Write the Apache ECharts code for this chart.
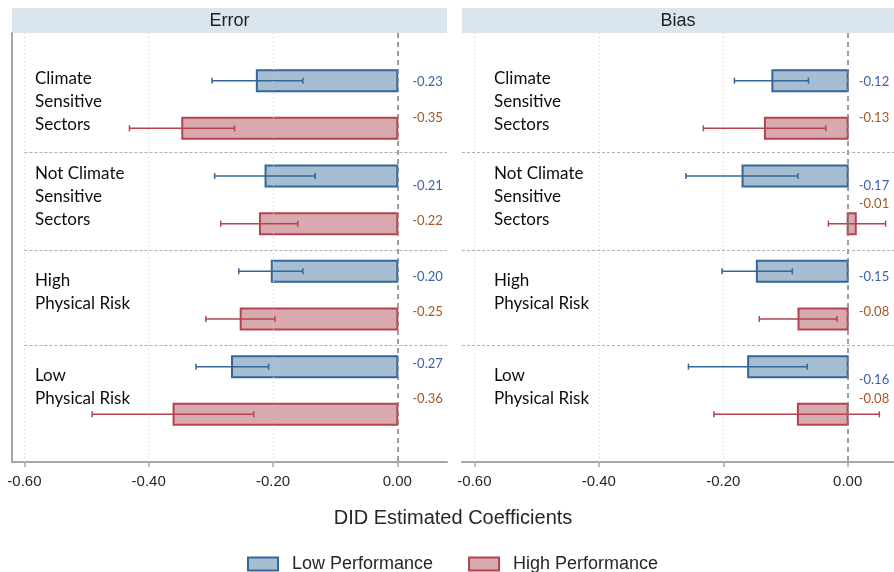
<!DOCTYPE html>
<html>
<head>
<meta charset="utf-8">
<script src="https://cdn.jsdelivr.net/npm/echarts@6/dist/echarts.min.js"></script>
<style>
html, body { margin: 0; padding: 0; background: #fff; }
#chart { width: 894px; height: 572px; }
</style>
</head>
<body>
<div id="chart"></div>
<script>
// subgroups, top to bottom
const groups = [
    ['Climate', 'Sensitive', 'Sectors'],
    ['Not Climate', 'Sensitive', 'Sectors'],
    ['High', 'Physical Risk'],
    ['Low', 'Physical Risk']
]
const panels = ['Error', 'Bias']
const xTicks = [-0.6, -0.4, -0.2, 0]

// DID coefficients and CI ends
const errLow = [-0.226, -0.212, -0.202, -0.266]
const errLowCI = [[-0.298, -0.152], [-0.294, -0.132], [-0.255, -0.152], [-0.324, -0.207]]
const errHigh = [-0.346, -0.221, -0.252, -0.360]
const errHighCI = [[-0.431, -0.262], [-0.284, -0.160], [-0.308, -0.197], [-0.491, -0.231]]
const biasLow = [-0.121, -0.169, -0.146, -0.160]
const biasLowCI = [[-0.182, -0.063], [-0.260, -0.080], [-0.202, -0.089], [-0.256, -0.065]]
const biasHigh = [-0.133, 0.013, -0.079, -0.080]
const biasHighCI = [[-0.232, -0.035], [-0.031, 0.061], [-0.142, -0.017], [-0.215, 0.051]]
// printed as in the source figure (the -0.01 sits next to a small positive bar)
const biasHighText = ['-0.13', '-0.01', '-0.08', '-0.08']

const LOW = { name: 'Low Performance', fill: '#a7bdd2', stroke: '#33669a', text: '#3d60aa' }
const HIGH = { name: 'High Performance', fill: '#d8aab0', stroke: '#b5434f', text: '#a1572a' }

// vertical nudges (px) of the value labels, per panel: [low, high] per group
const labelNudge = [
    [[1, -11], [10, -3], [5, -7], [-3, -16]],
    [[1, -11], [10, -20], [5, -7], [13, -16]]
]
const labelDx = [15, 11]
const groupDx = [23, 32]
const separators = [2.5, 4.55, 6.55]
const XMIN = -0.62
const XMAX = [0.08, 0.0745]   // right panel is cut by the image edge

function rows(vals, ci, kind) {
    return vals.map((v, i) => [2 * i + 1 + kind, v, ci[i][0], ci[i][1]])
}

const panelData = [
    { low: rows(errLow, errLowCI, 0), high: rows(errHigh, errHighCI, 1),
      lowText: errLow.map(v => v.toFixed(2)), highText: errHigh.map(v => v.toFixed(2)) },
    { low: rows(biasLow, biasLowCI, 0), high: rows(biasHigh, biasHighCI, 1),
      lowText: biasLow.map(v => v.toFixed(2)), highText: biasHighText }
]

function barRender(p, kind, look, texts) {
    return function (params, api) {
        let i = params.dataIndex
        let pos = api.value(0)
        let a = api.coord([0, pos])
        let b = api.coord([api.value(1), pos])
        let lo = api.coord([api.value(2), pos])
        let hi = api.coord([api.value(3), pos])
        let h = api.size([0, 0.44])[1]
        let y = a[1]
        let x0 = Math.min(a[0], b[0]), w = Math.abs(a[0] - b[0])
        let cap = 3
        return {
            type: 'group',
            children: [
                { type: 'rect', shape: { x: x0, y: y - h / 2, width: w, height: h },
                  style: { fill: look.fill, stroke: look.stroke, lineWidth: 2 } },
                { type: 'line', shape: { x1: lo[0], y1: y, x2: hi[0], y2: y },
                  style: { stroke: look.stroke, lineWidth: 1.5 } },
                { type: 'line', shape: { x1: lo[0], y1: y - cap, x2: lo[0], y2: y + cap },
                  style: { stroke: look.stroke, lineWidth: 1.5 } },
                { type: 'line', shape: { x1: hi[0], y1: y - cap, x2: hi[0], y2: y + cap },
                  style: { stroke: look.stroke, lineWidth: 1.5 } },
                { type: 'text', x: a[0] + labelDx[p], y: y + labelNudge[p][i][kind],
                  style: { text: texts[i], fill: look.text, font: '13px Lato',
                           align: 'left', verticalAlign: 'middle' } }
            ]
        }
    }
}

function groupRender(p) {
    return function (params, api) {
        let c = api.coord([api.value(0), api.value(1)])
        return {
            type: 'text', x: c[0] + groupDx[p], y: c[1] - 3,
            style: { text: groups[params.dataIndex].join('\n'), fill: '#0d0d0d',
                     font: '17px Lato', lineHeight: 23, align: 'left', verticalAlign: 'middle' }
        }
    }
}

let grids = [], xAxes = [], yAxes = [], series = [], graphics = []
panels.forEach((title, p) => {
    let left = p === 0 ? 12 : 462
    let width = p === 0 ? 435 : 432
    grids.push({ left: left, width: width, top: 33, height: 429 })
    xAxes.push({
        gridIndex: p, type: 'value', min: XMIN, max: XMAX[p],
        axisLine: { show: true, onZero: false, lineStyle: { color: '#a6a6a6', width: 2 } },
        axisTick: { show: true, customValues: xTicks, length: 5, lineStyle: { color: '#a6a6a6', width: 1.5 } },
        axisLabel: { customValues: xTicks, formatter: v => v.toFixed(2), color: '#262626',
                     fontSize: 15, fontFamily: 'Arial', margin: 12 },
        splitLine: { show: false }
    })
    yAxes.push({
        gridIndex: p, type: 'value', min: 0, max: 9, inverse: true,
        axisLine: { show: p === 0, onZero: false, lineStyle: { color: '#a6a6a6', width: 2 } },
        axisTick: { show: false }, axisLabel: { show: false }, splitLine: { show: false }
    })

    let sepStart = p === 0 ? -0.6 : XMIN
    series.push({
        type: 'custom', name: LOW.name, xAxisIndex: p, yAxisIndex: p,
        itemStyle: { color: LOW.fill, borderColor: LOW.stroke },
        renderItem: barRender(p, 0, LOW, panelData[p].lowText),
        data: panelData[p].low,
        markLine: {
            silent: true, symbol: 'none', label: { show: false },
            data: xTicks.slice(0, 3).map(t => ({ xAxis: t, lineStyle: { color: '#cccccc', type: [1, 3], width: 1 } }))
                .concat([{ xAxis: 0, lineStyle: { color: '#7f7f7f', type: [5, 4], width: 1.5 } }])
                .concat(separators.map(s => [
                    { coord: [sepStart, s], lineStyle: { color: '#b0b0b0', type: [3, 2], width: 1 } },
                    { coord: [XMAX[p], s] }
                ]))
        },
        z: 3
    })
    series.push({
        type: 'custom', name: HIGH.name, xAxisIndex: p, yAxisIndex: p,
        itemStyle: { color: HIGH.fill, borderColor: HIGH.stroke },
        renderItem: barRender(p, 1, HIGH, panelData[p].highText),
        data: panelData[p].high,
        z: 3
    })
    series.push({
        type: 'custom', xAxisIndex: p, yAxisIndex: p, silent: true,
        renderItem: groupRender(p),
        data: groups.map((g, i) => [XMIN, 2 * i + 1.5])
    })

    graphics.push({ type: 'rect', shape: { x: left, y: 8, width: width, height: 25 },
                    style: { fill: '#dae5ed' }, silent: true })
    graphics.push({ type: 'text', x: left + width / 2, y: 21,
                    style: { text: title, font: '18px Arial', fill: '#222', align: 'center', verticalAlign: 'middle' } })
})

graphics.push({ type: 'text', x: 453, y: 518,
                style: { text: 'DID Estimated Coefficients', font: '20px Arial', fill: '#262626',
                         align: 'center', verticalAlign: 'middle' } })

let chart = echarts.init(document.getElementById('chart'))
chart.setOption({
    animation: false,
    grid: grids,
    xAxis: xAxes,
    yAxis: yAxes,
    graphic: graphics,
    legend: {
        left: 242, top: 550, itemWidth: 30, itemHeight: 13, itemGap: 35, icon: 'rect',
        textStyle: { fontFamily: 'Arial', fontSize: 18, color: '#262626', padding: [0, 0, 0, 9] },
        data: [
            { name: LOW.name, itemStyle: { color: LOW.fill, borderColor: LOW.stroke, borderWidth: 2 } },
            { name: HIGH.name, itemStyle: { color: HIGH.fill, borderColor: HIGH.stroke, borderWidth: 2 } }
        ]
    },
    series: series
})
</script>
</body>
</html>
